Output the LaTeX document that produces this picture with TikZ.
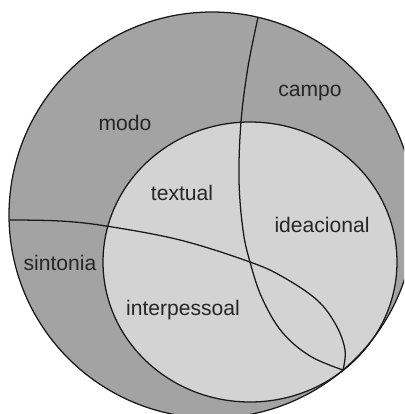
\documentclass[tikz,border=0pt]{standalone}
\usepackage{fontspec}
\setmainfont{Liberation Sans}

\definecolor{ringgray}{RGB}{163,163,163}
\definecolor{coregray}{RGB}{211,211,211}

\begin{document}
\begin{tikzpicture}[
    x=0.025cm, y=-0.025cm,
    every node/.style={font=\fontsize{15}{18}\selectfont, text=black!85},
    border/.style={draw=black!90, line width=0.9pt},
    divider/.style={draw=black!90, line width=0.9pt, smooth, tension=0.6}
]
\clip (0,0) rectangle (404,414);
% outer ring and inner core
\fill[ringgray] (212,215) circle [radius=203];
\fill[coregray] (250,262) ellipse [x radius=147, y radius=140];
\draw[border] (250,262) ellipse [x radius=147, y radius=140];
\draw[border] (212,215) circle [radius=203];
\coordinate (cross) at (250,262);
\coordinate (tip) at (343,370);
% dividing curves
\draw[divider] plot coordinates {(258,17.5) (248,67) (241,122) (239,180) (243,230) (cross) (262,298) (282,332) (310,356) (tip)};
\draw[divider] plot coordinates {(9.5,220) (60,221) (106,226) (180,240) (cross) (283,277) (317,300) (336,325) (345,350) (tip)};
% labels
\node (modo) at (125,123) {modo};
\node (campo) at (310,93) {campo};
\node (textual) at (182,193) {textual};
\node (ideacional) at (322,225) {ideacional};
\node (sintonia) at (60,263) {sintonia};
\node (interpessoal) at (183,310) {interpessoal};
\end{tikzpicture}
\end{document}
